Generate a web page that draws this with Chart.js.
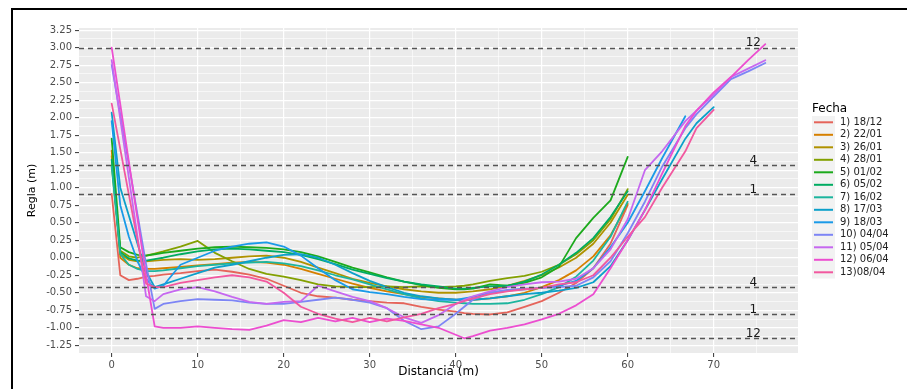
<!DOCTYPE html>
<html>
<head>
<meta charset="utf-8">
<script src="https://cdn.jsdelivr.net/npm/chart.js@4.4.1/dist/chart.umd.min.js"></script>
<style>
  html, body { margin: 0; padding: 0; background: #fff; overflow: hidden; }
  #wrap { position: relative; width: 907px; height: 389px; }
  #frame {
    position: absolute; left: 11px; top: 8px; right: 0; bottom: 0;
    border-left: 2px solid #000; border-top: 2px solid #000;
    pointer-events: none;
  }
</style>
</head>
<body>
<div id="wrap">
  <canvas id="perfil" width="907" height="389"></canvas>
  <div id="frame"></div>
</div>
<script>
// Distance (m) for every measured point; shorter series stop earlier
const distancia = [0, 1, 2, 3, 4, 5, 6, 8, 10, 12, 14, 16, 18, 20, 22, 24, 26, 28, 30, 32, 34, 36, 38, 40,
  41, 42, 44, 46, 48, 50, 52, 54, 56, 58, 60, 62, 64, 66.7, 68, 70, 72, 74, 76];

const fechas = ["1) 18/12", "2) 22/01", "3) 26/01", "4) 28/01", "5) 01/02", "6) 05/02", "7) 16/02",
  "8) 17/03", "9) 18/03", "10) 04/04", "11) 05/04", "12) 06/04", "13)08/04"];

const colores = ["#E5645A", "#D68000", "#B09200", "#83A000", "#1CAA1C", "#00AC62", "#1CB59E",
  "#0CA0CA", "#1A9AE8", "#7D85F5", "#C668F0", "#EC4ED0", "#F2589F"];

// Regla (m) readings per survey date
const regla01 = [0.91, -0.25, -0.32, -0.30, -0.27, -0.26, -0.24, -0.22, -0.19, -0.17, -0.20, -0.24, -0.30, -0.40, -0.50, -0.55, -0.57, -0.60, -0.62, -0.64, -0.65, -0.70, -0.74, -0.77,
  -0.79, -0.80, -0.81, -0.78, -0.70, -0.62, -0.50, -0.36, -0.15, 0.20, 0.75];
const regla02 = [1.53, 0.00, -0.10, -0.15, -0.16, -0.16, -0.15, -0.13, -0.11, -0.09, -0.07, -0.06, -0.07, -0.10, -0.16, -0.23, -0.30, -0.37, -0.43, -0.48, -0.52, -0.56, -0.58, -0.60,
  -0.60, -0.60, -0.58, -0.55, -0.50, -0.42, -0.32, -0.18, 0.02, 0.32, 0.77];
const regla03 = [1.45, 0.05, -0.03, -0.05, -0.05, -0.04, -0.03, -0.02, -0.03, -0.02, 0.00, 0.02, 0.03, 0.00, -0.06, -0.14, -0.22, -0.30, -0.36, -0.41, -0.45, -0.48, -0.50, -0.50,
  -0.49, -0.48, -0.45, -0.40, -0.33, -0.25, -0.14, 0.00, 0.20, 0.50, 0.90];
const regla04 = [1.32, 0.10, 0.02, 0.00, 0.03, 0.06, 0.09, 0.16, 0.24, 0.07, -0.05, -0.16, -0.23, -0.27, -0.32, -0.38, -0.41, -0.42, -0.42, -0.41, -0.42, -0.41, -0.42, -0.41,
  -0.40, -0.38, -0.33, -0.29, -0.26, -0.20, -0.10, 0.05, 0.25, 0.55, 0.98];
const regla05 = [1.70, 0.15, 0.08, 0.04, 0.03, 0.05, 0.07, 0.10, 0.13, 0.15, 0.16, 0.15, 0.14, 0.12, 0.08, 0.02, -0.06, -0.14, -0.21, -0.28, -0.34, -0.39, -0.43, -0.45,
  -0.45, -0.44, -0.38, -0.40, -0.36, -0.28, -0.13, 0.28, 0.57, 0.82, 1.44];
const regla06 = [1.40, 0.08, -0.01, -0.04, -0.04, -0.02, 0.00, 0.05, 0.09, 0.12, 0.13, 0.12, 0.10, 0.08, 0.04, -0.02, -0.09, -0.17, -0.23, -0.29, -0.34, -0.38, -0.41, -0.44,
  -0.44, -0.43, -0.41, -0.40, -0.34, -0.24, -0.10, 0.07, 0.28, 0.58, 0.95];
const regla07 = [1.30, 0.05, -0.10, -0.16, -0.19, -0.19, -0.18, -0.15, -0.12, -0.10, -0.08, -0.07, -0.06, -0.08, -0.12, -0.18, -0.25, -0.31, -0.38, -0.45, -0.52, -0.58, -0.62, -0.64,
  -0.65, -0.66, -0.66, -0.65, -0.60, -0.52, -0.42, -0.27, -0.04, 0.30, 0.80];
const regla08 = [2.07, 1.00, 0.60, 0.20, -0.20, -0.42, -0.38, -0.30, -0.22, -0.14, -0.10, -0.05, 0.00, 0.04, 0.05, 0.00, -0.10, -0.22, -0.33, -0.42, -0.50, -0.55, -0.58, -0.60,
  -0.60, -0.60, -0.58, -0.55, -0.52, -0.50, -0.47, -0.43, -0.35, -0.12, 0.25, 0.68, 1.12, 1.70, 1.92, 2.15];
const regla09 = [1.95, 0.75, 0.30, -0.05, -0.30, -0.44, -0.40, -0.10, 0.00, 0.10, 0.16, 0.20, 0.22, 0.16, 0.03, -0.15, -0.32, -0.45, -0.49, -0.52, -0.56, -0.59, -0.60, -0.60,
  -0.58, -0.56, -0.50, -0.47, -0.45, -0.43, -0.40, -0.33, -0.15, 0.15, 0.50, 0.95, 1.42, 2.02];
const regla10 = [2.75, 2.04, 1.33, 0.62, -0.09, -0.73, -0.66, -0.62, -0.59, -0.60, -0.61, -0.64, -0.66, -0.66, -0.63, -0.60, -0.57, -0.60, -0.64, -0.72, -0.90, -1.02, -0.98, -0.80,
  -0.70, -0.60, -0.50, -0.46, -0.44, -0.43, -0.42, -0.40, -0.28, -0.05, 0.35, 0.80, 1.30, 1.85, 2.05, 2.30, 2.55, 2.66, 2.78];
const regla11 = [2.82, 1.98, 1.14, 0.30, -0.55, -0.62, -0.52, -0.45, -0.42, -0.48, -0.56, -0.63, -0.66, -0.63, -0.62, -0.40, -0.48, -0.56, -0.62, -0.72, -0.85, -0.93, -0.82, -0.66,
  -0.60, -0.55, -0.48, -0.42, -0.38, -0.35, -0.34, -0.30, -0.15, 0.12, 0.55, 1.25, 1.52, 1.95, 2.10, 2.33, 2.58, 2.70, 2.82];
const regla12 = [3.00, 2.19, 1.37, 0.56, -0.25, -0.98, -1.00, -1.00, -0.98, -1.00, -1.02, -1.03, -0.97, -0.89, -0.92, -0.86, -0.91, -0.86, -0.92, -0.87, -0.90, -0.95, -1.00, -1.10,
  -1.15, -1.12, -1.04, -1.00, -0.95, -0.88, -0.80, -0.68, -0.52, -0.15, 0.25, 0.68, 1.20, 1.88, 2.10, 2.36, 2.58, 2.82, 3.05];
const regla13 = [2.20, 1.55, 0.90, 0.25, -0.37, -0.42, -0.42, -0.36, -0.32, -0.28, -0.25, -0.28, -0.34, -0.50, -0.70, -0.80, -0.87, -0.92, -0.86, -0.91, -0.85, -0.80, -0.72, -0.66,
  -0.62, -0.58, -0.52, -0.48, -0.45, -0.43, -0.38, -0.35, -0.25, 0.00, 0.30, 0.58, 1.00, 1.52, 1.85, 2.11];

const series = [regla01, regla02, regla03, regla04, regla05, regla06, regla07,
  regla08, regla09, regla10, regla11, regla12, regla13];

// Reference levels (max / min of dates 12, 4 and 1)
const referencias = [3.00, 1.32, 0.91, -0.42, -0.81, -1.15];
const etiquetasRef = ["12", "4", "1", "4", "1", "12"];
const xEtiquetaRef = 74.6;

const FONT = '"DejaVu Sans", "Liberation Sans", sans-serif';

// gray ggplot-like panel behind the grid
const panelFondo = {
  id: "panelFondo",
  beforeDraw(chart) {
    const { ctx, chartArea: a } = chart;
    ctx.save();
    ctx.fillStyle = "#EBEBEB";
    ctx.fillRect(a.left, a.top, a.right - a.left, a.bottom - a.top);
    ctx.restore();
  }
};

// dashed reference lines with their labels
const lineasRef = {
  id: "lineasRef",
  afterDatasetsDraw(chart) {
    const { ctx, chartArea: a, scales } = chart;
    ctx.save();
    ctx.strokeStyle = "#555555";
    ctx.lineWidth = 1.4;
    ctx.setLineDash([5, 4]);
    referencias.forEach((v) => {
      const y = Math.round(scales.y.getPixelForValue(v)) + 0.5;
      ctx.beginPath();
      ctx.moveTo(a.left, y);
      ctx.lineTo(a.right, y);
      ctx.stroke();
    });
    ctx.setLineDash([]);
    ctx.fillStyle = "#1a1a1a";
    ctx.font = "12px " + FONT;
    ctx.textAlign = "center";
    ctx.textBaseline = "alphabetic";
    const x = scales.x.getPixelForValue(xEtiquetaRef);
    referencias.forEach((v, i) => {
      ctx.fillText(etiquetasRef[i], x, scales.y.getPixelForValue(v) - 1.5);
    });
    ctx.restore();
  }
};

// ggplot style legend on the right
const leyenda = {
  id: "leyenda",
  afterDraw(chart) {
    const ctx = chart.ctx;
    const left = 812, top = 122.3, paso = 12.5;
    ctx.save();
    ctx.textAlign = "left";
    ctx.textBaseline = "middle";
    ctx.fillStyle = "#000";
    ctx.font = "12px " + FONT;
    ctx.fillText("Fecha", left, 109);
    ctx.fillStyle = "#F2F2F2";
    ctx.fillRect(left, top - paso / 2, 23, paso * fechas.length);
    ctx.font = "10px " + FONT;
    fechas.forEach((f, i) => {
      const y = top + i * paso;
      ctx.strokeStyle = colores[i];
      ctx.lineWidth = 2;
      ctx.beginPath();
      ctx.moveTo(left + 2, y);
      ctx.lineTo(left + 21, y);
      ctx.stroke();
      ctx.fillStyle = "#222";
      ctx.fillText(f, left + 28, y);
    });
    ctx.restore();
  }
};

const datasets = series.map((serie, i) => ({
  label: fechas[i],
  data: serie.map((v, j) => ({ x: distancia[j], y: v })),
  borderColor: colores[i],
  backgroundColor: colores[i],
  borderWidth: 1.8,
  borderJoinStyle: "round",
  borderCapStyle: "round",
  pointRadius: 0,
  tension: 0,
  fill: false,
  order: series.length - i
}));

const esMayorX = (v) => Math.abs(v % 10) < 1e-6;
const esMayorY = (v) => Math.abs(v * 4 - Math.round(v * 4)) < 1e-6;

new Chart(document.getElementById("perfil"), {
  type: "line",
  data: { datasets },
  plugins: [panelFondo, lineasRef, leyenda],
  options: {
    responsive: false,
    animation: false,
    events: [],
    layout: { padding: { left: 0, right: 109, top: 28, bottom: 0 } },
    plugins: {
      legend: { display: false },
      tooltip: { enabled: false },
      title: { display: false }
    },
    scales: {
      x: {
        type: "linear",
        min: -3.8,
        max: 79.8,
        afterFit(scale) { scale.height = 36; },
        border: { display: false },
        grid: {
          color: "#FFFFFF",
          lineWidth: (c) => (c.tick && esMayorX(c.tick.value) ? 1.2 : 0.6),
          tickColor: (c) => (c.tick && esMayorX(c.tick.value) ? "#333333" : "rgba(0,0,0,0)"),
          tickWidth: 1,
          tickLength: 4
        },
        ticks: {
          stepSize: 5,
          includeBounds: false,
          autoSkip: false,
          maxRotation: 0,
          padding: 2,
          color: "#4D4D4D",
          font: { family: FONT, size: 10 },
          callback: (v) => (esMayorX(v) ? String(v) : "")
        },
        title: {
          display: true,
          text: "Distancia (m)",
          color: "#000",
          font: { family: FONT, size: 12 },
          padding: { top: 0, bottom: 10 }
        }
      },
      y: {
        type: "linear",
        min: -1.36,
        max: 3.28,
        afterFit(scale) { scale.width = 79; },
        border: { display: false },
        grid: {
          color: "#FFFFFF",
          lineWidth: (c) => (c.tick && esMayorY(c.tick.value) ? 1.2 : 0.6),
          tickColor: (c) => (c.tick && esMayorY(c.tick.value) ? "#333333" : "rgba(0,0,0,0)"),
          tickWidth: 1,
          tickLength: 4
        },
        ticks: {
          stepSize: 0.125,
          includeBounds: false,
          autoSkip: false,
          padding: 3,
          color: "#4D4D4D",
          font: { family: FONT, size: 10 },
          callback: (v) => (esMayorY(v) ? v.toFixed(2) : "")
        },
        title: {
          display: true,
          text: "Regla (m)",
          color: "#000",
          font: { family: FONT, size: 11 },
          padding: { top: 26, bottom: 0 }
        }
      }
    }
  }
});
</script>
</body>
</html>
